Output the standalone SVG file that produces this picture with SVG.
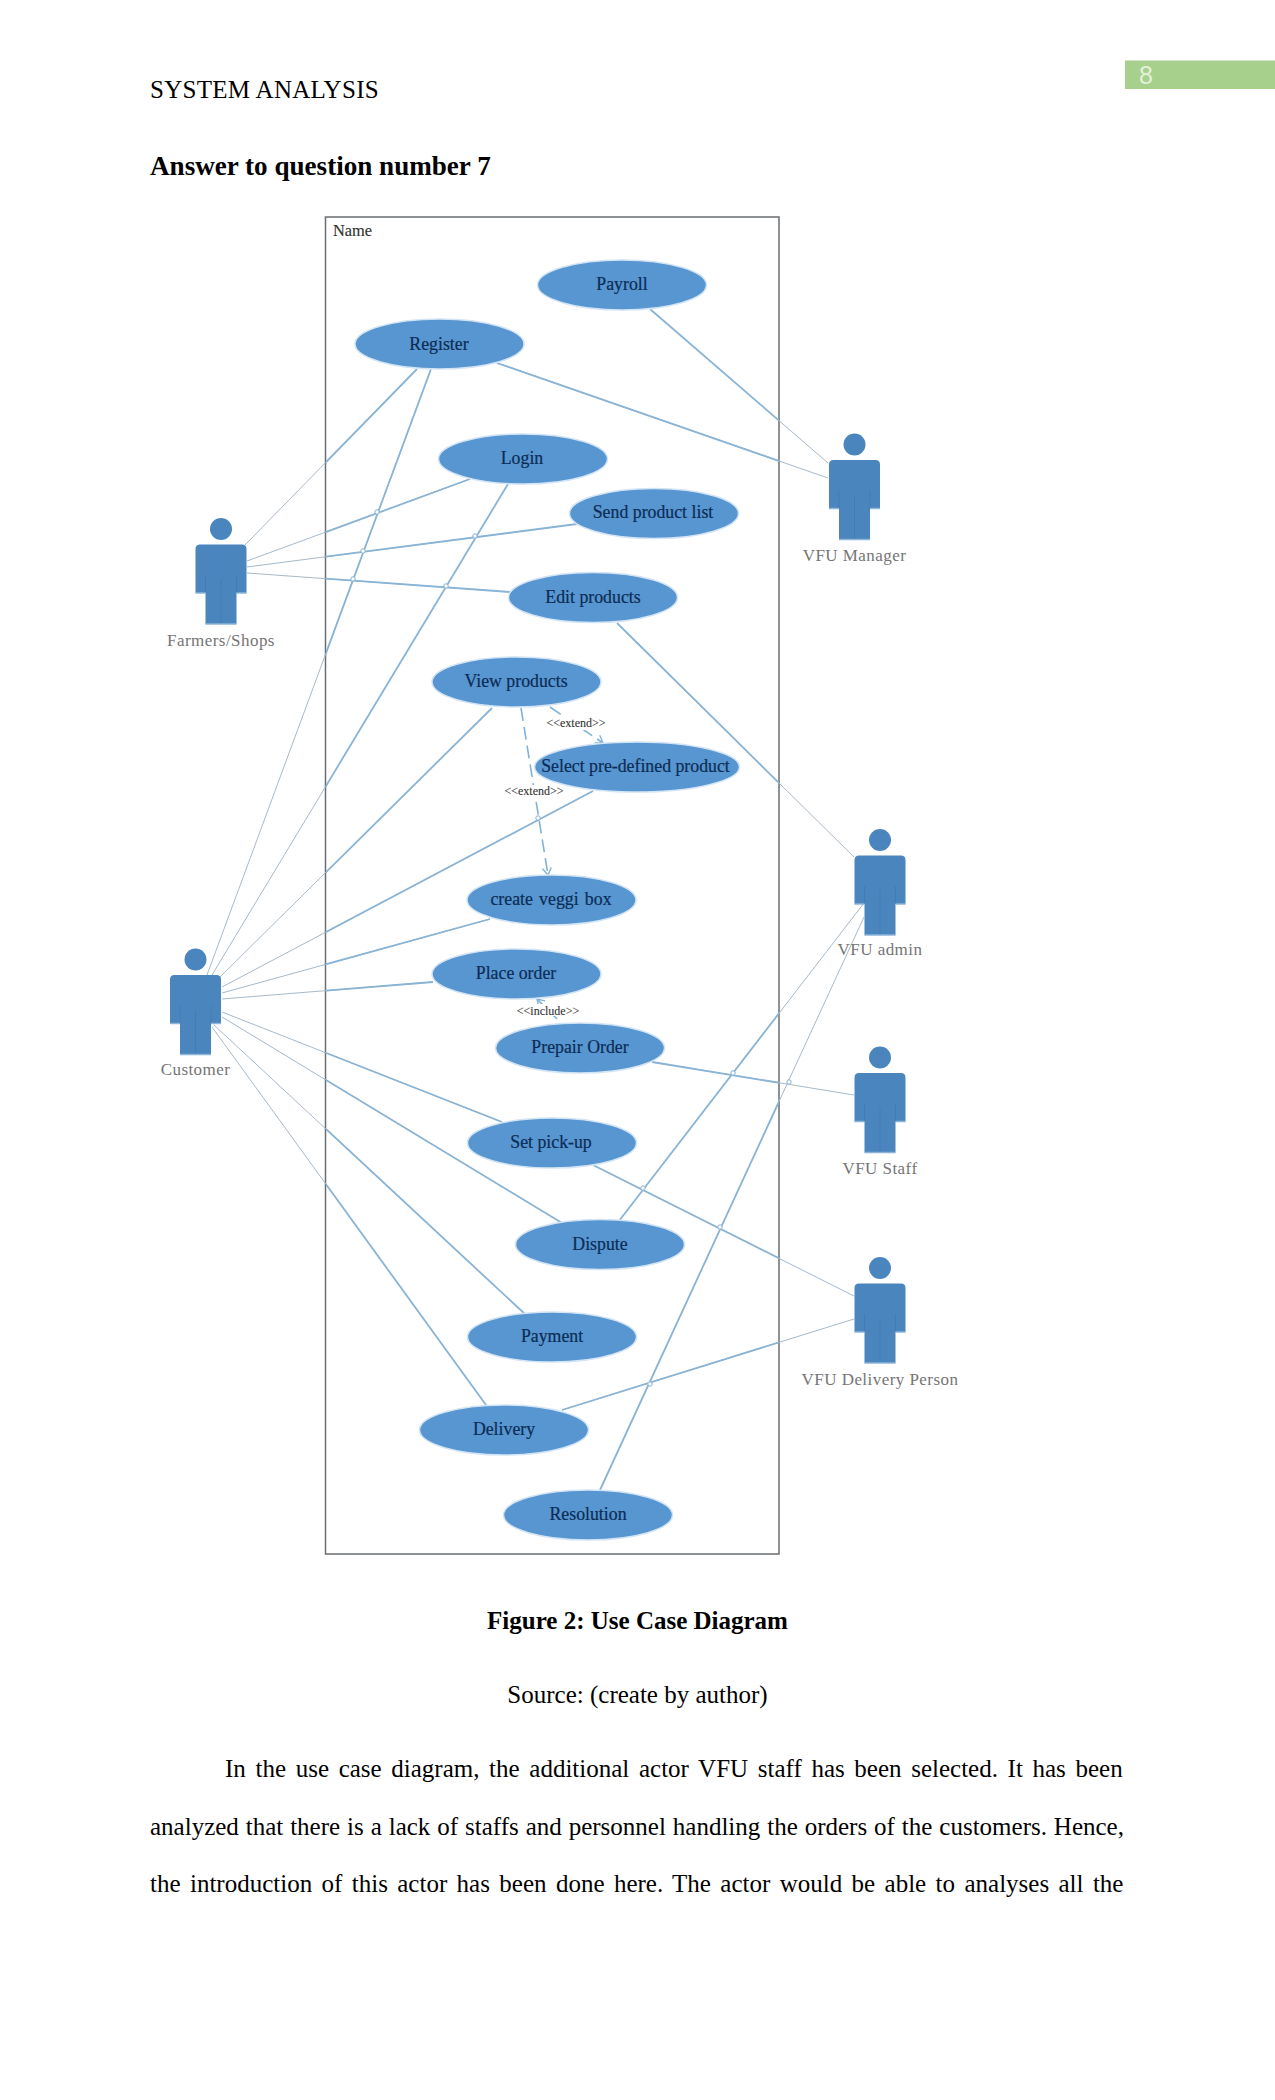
<svg xmlns="http://www.w3.org/2000/svg" xmlns:xlink="http://www.w3.org/1999/xlink" width="1275" height="2100" viewBox="0 0 1275 2100">
  <style>
    text { font-family: "Liberation Serif", "Times New Roman", serif; }
    .page { font-size: 25px; fill: #000; }
    .bold { font-weight: bold; }
    .mid { text-anchor: middle; }
    .uc ellipse { fill: #5796d1; stroke: #d3e4f4; stroke-width: 1.5; }
    .uc text { font-size: 17.8px; fill: #0c2c55; stroke: #0c2c55; stroke-width: 0.2; text-anchor: middle; }
    .actor text { font-size: 17px; fill: #757575; text-anchor: middle; letter-spacing: 0.45px; }
    .assoc { fill: none; stroke: #a7b9c9; stroke-width: 1; }
    .assoc-in { fill: none; stroke: #8ab4d5; stroke-width: 1.8; }
    .hop { fill: #fff; stroke: #86b2d6; stroke-width: 1; }
    .dep { fill: none; stroke: #7fb2d8; stroke-width: 1.6; stroke-dasharray: 13 6; }
    .dep-label { font-size: 12px; fill: #333; stroke: #333; stroke-width: 0.1; text-anchor: middle; }
    .dep-mask { fill: #fff; }
  </style>
  <defs>
    <marker id="open" markerWidth="12" markerHeight="12" refX="10" refY="6" orient="auto" markerUnits="userSpaceOnUse">
      <path d="M3 1.500 L10 6 L3 10.500" fill="none" stroke="#7fb2d8" stroke-width="1.3"/>
    </marker>
    <clipPath id="inBox"><rect x="326" y="217" width="453" height="1337"/></clipPath>
    <g id="person">
      <circle cx="0" cy="0" r="11" fill="#4a86bd"/>
      <path d="M-25.500 64 V20 Q-25.500 15.500 -21 15.500 H21 Q25.500 15.500 25.500 20 V64 H15.500 V95 H-15.500 V64 Z" fill="#4a86bd"/>
      <path d="M0 51 V95 M-15.500 46 V64 M15.500 46 V64" fill="none" stroke="#4379ac" stroke-width="0.7"/>
      <path d="M-25.500 64 H-15.500 M15.500 64 H25.500 M-15.500 95 H15.500" fill="none" stroke="#8db5da" stroke-width="1.5"/>
    </g>
  </defs>

  <!-- Running header -->
  <text class="page" x="150" y="98" letter-spacing="0.290">SYSTEM ANALYSIS</text>
  <rect x="1125" y="60.500" width="150" height="28.500" fill="#a8d08d"/>
  <text x="1146" y="84" font-size="25" fill="#e2f0d9" text-anchor="middle" style="font-family:'Liberation Sans',Arial,sans-serif">8</text>
  <text class="page bold" x="150" y="175" style="font-size:27.100px">Answer to question number 7</text>

  <!-- System boundary -->
  <g id="boundary">
    <rect x="325.500" y="217" width="453.500" height="1337" fill="#fff" stroke="#6a6e72" stroke-width="1.5"/>
    <text x="333" y="236" font-size="16.400" fill="#333" stroke="#333" stroke-width="0.15">Name</text>
  </g>

  <!-- Associations: thin outside the boundary, heavier inside it -->
  <g id="connectors">
    <g class="assoc">
      <g id="assoc-lines">
        <path d="M245 545 L417 369"/>
        <path d="M247 561 L470 479"/>
        <path d="M247 567 L577 524"/>
        <path d="M247 573 L510 592"/>
        <path d="M207 975 L431 369"/>
        <path d="M212 975 L508 484"/>
        <path d="M220 977 L492 708"/>
        <path d="M222 987 L593 791"/>
        <path d="M222 993 L490 919"/>
        <path d="M222 999 L433 982"/>
        <path d="M222 1012 L502 1122"/>
        <path d="M222 1017 L562 1223"/>
        <path d="M214 1025 L526 1315"/>
        <path d="M212 1027 L486 1405"/>
        <path d="M650 309 L828 463"/>
        <path d="M497 363 L828 478"/>
        <path d="M617 623 L854 857"/>
        <path d="M619 1221 L864 903"/>
        <path d="M600 1490 L864 917"/>
        <path d="M652 1062 L854 1095"/>
        <path d="M593 1165 L854 1296"/>
        <path d="M562 1410 L854 1319"/>
      </g>
    </g>
    <use href="#assoc-lines" xlink:href="#assoc-lines" class="assoc-in" clip-path="url(#inBox)"/>
    <g id="hops">
      <circle class="hop" cx="377" cy="512" r="2.200"/>
      <circle class="hop" cx="363" cy="551" r="2.200"/>
      <circle class="hop" cx="353" cy="579" r="2.200"/>
      <circle class="hop" cx="475" cy="536" r="2.200"/>
      <circle class="hop" cx="446" cy="586" r="2.200"/>
      <circle class="hop" cx="538" cy="818" r="2.200"/>
      <circle class="hop" cx="733" cy="1073" r="2.200"/>
      <circle class="hop" cx="789" cy="1082" r="2.200"/>
      <circle class="hop" cx="643" cy="1188" r="2.200"/>
      <circle class="hop" cx="720" cy="1227" r="2.200"/>
      <circle class="hop" cx="650" cy="1384" r="2.200"/>
    </g>
    <path class="dep" d="M521 708 L548 875" marker-end="url(#open)"/>
    <path class="dep" d="M550 707 L603 743" marker-end="url(#open)"/>
    <path class="dep" d="M557 1019 L537 999" marker-end="url(#open)"/>
  </g>

  <!-- Use cases -->
  <g id="uc-payroll" class="uc"><ellipse cx="622" cy="285" rx="84.500" ry="25"/><text x="622" y="290">Payroll</text></g>
  <g id="uc-register" class="uc"><ellipse cx="439.500" cy="344" rx="84.500" ry="25"/><text x="439" y="350">Register</text></g>
  <g id="uc-login" class="uc"><ellipse cx="523" cy="459" rx="84.500" ry="25"/><text x="522" y="464">Login</text></g>
  <g id="uc-send" class="uc"><ellipse cx="654" cy="513.500" rx="84.500" ry="25"/><text x="653" y="518">Send product list</text></g>
  <g id="uc-edit" class="uc"><ellipse cx="593" cy="597.500" rx="84.500" ry="25"/><text x="593" y="603">Edit products</text></g>
  <g id="uc-view" class="uc"><ellipse cx="516.500" cy="682" rx="84.500" ry="25"/><text x="516" y="687">View products</text></g>
  <g id="uc-select" class="uc"><ellipse cx="637" cy="767" rx="102.500" ry="25"/><text x="635.500" y="772">Select pre-defined product</text></g>
  <g id="uc-veggi" class="uc"><ellipse cx="551.500" cy="900" rx="84.500" ry="25"/><text x="551" y="905" word-spacing="1.800">create veggi box</text></g>
  <g id="uc-place" class="uc"><ellipse cx="516.500" cy="974" rx="84.500" ry="25"/><text x="516" y="979">Place order</text></g>
  <g id="uc-prepair" class="uc"><ellipse cx="580" cy="1048" rx="84.500" ry="25"/><text x="580" y="1053">Prepair Order</text></g>
  <g id="uc-pickup" class="uc"><ellipse cx="552" cy="1143" rx="84.500" ry="25"/><text x="551" y="1148">Set pick-up</text></g>
  <g id="uc-dispute" class="uc"><ellipse cx="600" cy="1244.500" rx="84.500" ry="25"/><text x="600" y="1250">Dispute</text></g>
  <g id="uc-payment" class="uc"><ellipse cx="552" cy="1337" rx="84.500" ry="25"/><text x="552" y="1342">Payment</text></g>
  <g id="uc-delivery" class="uc"><ellipse cx="504" cy="1430" rx="84.500" ry="25"/><text x="504" y="1435">Delivery</text></g>
  <g id="uc-resolution" class="uc"><ellipse cx="588" cy="1515" rx="84.500" ry="25"/><text x="588" y="1520">Resolution</text></g>

  <!-- Stereotype labels sit on a white patch that interrupts the dashed line -->
  <rect class="dep-mask" x="547" y="717" width="58" height="13"/>
  <text class="dep-label" x="576" y="727">&lt;&lt;extend&gt;&gt;</text>
  <rect class="dep-mask" x="505" y="785" width="58" height="13"/>
  <text class="dep-label" x="534" y="795">&lt;&lt;extend&gt;&gt;</text>
  <rect class="dep-mask" x="518" y="1004" width="61" height="12"/>
  <text class="dep-label" x="548" y="1015">&lt;&lt;include&gt;&gt;</text>

  <!-- Actors -->
  <g id="actor-farmers" class="actor"><use href="#person" xlink:href="#person" x="221" y="529"/><text x="221" y="646">Farmers/Shops</text></g>
  <g id="actor-customer" class="actor"><use href="#person" xlink:href="#person" x="195.500" y="959.500"/><text x="195.500" y="1075">Customer</text></g>
  <g id="actor-manager" class="actor"><use href="#person" xlink:href="#person" x="854.500" y="444.500"/><text x="854.500" y="561">VFU Manager</text></g>
  <g id="actor-admin" class="actor"><use href="#person" xlink:href="#person" x="880" y="840"/><text x="880" y="955">VFU admin</text></g>
  <g id="actor-staff" class="actor"><use href="#person" xlink:href="#person" x="880" y="1057.500"/><text x="880" y="1174">VFU Staff</text></g>
  <g id="actor-delivery" class="actor"><use href="#person" xlink:href="#person" x="880" y="1268"/><text x="880" y="1385">VFU Delivery Person</text></g>

  <!-- Caption and body copy -->
  <text class="page bold mid" x="637.500" y="1629">Figure 2: Use Case Diagram</text>
  <text class="page mid" x="637.500" y="1703">Source: (create by author)</text>
  <text class="page" x="225" y="1777" word-spacing="3.400">In the use case diagram, the additional actor VFU staff has been selected. It has been</text>
  <text class="page" x="150" y="1835" word-spacing="0.680">analyzed that there is a lack of staffs and personnel handling the orders of the customers. Hence,</text>
  <text class="page" x="150" y="1892" word-spacing="3.140">the introduction of this actor has been done here. The actor would be able to analyses all the</text>
</svg>
